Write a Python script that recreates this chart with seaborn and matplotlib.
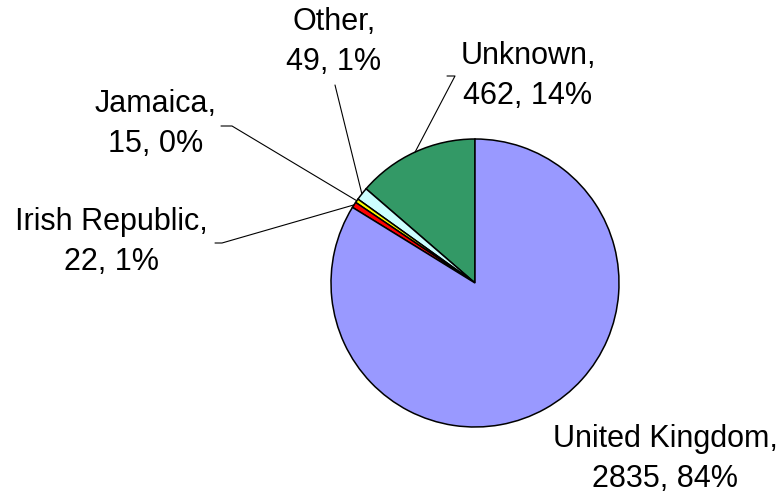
import numpy as np
import matplotlib
matplotlib.use("Agg")
import matplotlib.pyplot as plt
import seaborn as sns

# ---------------- Data ----------------
countries = ["Unknown", "Other", "Jamaica", "Irish Republic", "United Kingdom"]
counts = [462, 49, 15, 22, 2835]
percents = ["14%", "1%", "0%", "1%", "84%"]
colors = ["#339966", "#CCFFFF", "#FFFF00", "#FF0000", "#9999FF"]

sns.set_theme(style="white")
plt.rcParams['font.family'] = ['Liberation Sans', 'DejaVu Sans']

W, H = 782, 494
fig = plt.figure(figsize=(W / 100, H / 100), dpi=100)
ax = fig.add_axes([0, 0, 1, 1])

# pie centre / radius in pixel space (y measured from bottom)
cx, cy, r = 475, H - 283, 144
wedges, _ = ax.pie(counts, colors=colors, startangle=90, counterclock=True,
                   center=(cx, cy), radius=r, frame=True,
                   wedgeprops=dict(edgecolor="black", linewidth=1.1))
ax.set_xlim(0, W)
ax.set_ylim(0, H)
ax.axis("off")

# label anchors (text centre) and leader line start points, in pixels from top-left
label_pos = {
    "Unknown": (528, 76),
    "Other": (334, 42),
    "Jamaica": (156, 124),
    "Irish Republic": (111, 242),
    "United Kingdom": (665, 459),
}
leader_start = {
    "Unknown": [(447, 76), (455, 76)],
    "Other": [(335, 85)],
    "Jamaica": [(221, 126), (232, 126)],
    "Irish Republic": [(215, 243), (222, 243)],
}

for w, name, n, p in zip(wedges, countries, counts, percents):
    lx, ly = label_pos[name]
    ax.text(lx, H - ly, f"{name},\n{n}, {p}", ha="center", va="center",
            fontsize=22, linespacing=1.4, color="black")
    if name in leader_start:
        mid = np.deg2rad((w.theta1 + w.theta2) / 2)
        ex, ey = cx + r * np.cos(mid), cy + r * np.sin(mid)
        pts = leader_start[name]
        xs = [q[0] for q in pts] + [ex]
        ys = [H - q[1] for q in pts] + [ey]
        ax.plot(xs, ys, color="black", linewidth=0.8)

fig.savefig("out.png", dpi=100, facecolor="white")
